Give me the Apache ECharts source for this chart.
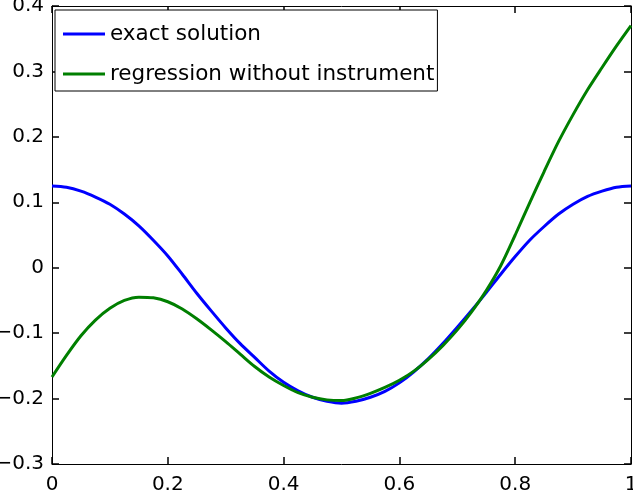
<!DOCTYPE html>
<html>
<head>
<meta charset="utf-8">
<script src="https://cdn.jsdelivr.net/npm/echarts@6/dist/echarts.min.js"></script>
<style>
html,body{margin:0;padding:0;background:#fff;}
#chart{width:633px;height:492px;}
</style>
</head>
<body>
<div id="chart"></div>
<script>
const xs = [0, 0.025, 0.05, 0.075, 0.10, 0.125, 0.15, 0.175, 0.20, 0.225, 0.25, 0.275, 0.30, 0.325, 0.35, 0.375, 0.40, 0.425, 0.45, 0.475,
            0.50, 0.525, 0.55, 0.575, 0.60, 0.625, 0.65, 0.675, 0.70, 0.725, 0.75, 0.775, 0.80, 0.825, 0.85, 0.875, 0.90, 0.925, 0.95, 0.975, 1.00];
const exactSolution = [0.125, 0.123, 0.117, 0.108, 0.097, 0.082, 0.064, 0.042, 0.018, -0.010, -0.039, -0.066, -0.092, -0.116, -0.137, -0.158, -0.175, -0.188, -0.198, -0.204,
                       -0.207, -0.204, -0.198, -0.189, -0.176, -0.159, -0.139, -0.116, -0.091, -0.065, -0.038, -0.010, 0.017, 0.042, 0.063, 0.082, 0.097, 0.109, 0.117, 0.123, 0.125];
const regressionNoInstrument = [-0.167, -0.134, -0.104, -0.080, -0.062, -0.050, -0.045, -0.046, -0.052, -0.063, -0.078, -0.095, -0.113, -0.132, -0.151, -0.167, -0.180, -0.191, -0.198, -0.202,
                                -0.203, -0.199, -0.192, -0.183, -0.172, -0.158, -0.140, -0.119, -0.095, -0.067, -0.035, 0.003, 0.050, 0.099, 0.147, 0.193, 0.234, 0.272, 0.306, 0.339, 0.370];
const seriesNames = ['exact solution', 'regression without instrument'];
const xTicks = [0, 0.2, 0.4, 0.6, 0.8, 1];
const yTicks = [-0.3, -0.2, -0.1, 0, 0.1, 0.2, 0.3, 0.4];

const pairs = (ys) => xs.map((x, i) => [x, ys[i]]);
const fmt = (v) => {
  const r = Math.round(v * 10) / 10;
  if (r === 0) return '0';
  if (r === 1) return '1';
  return (r < 0 ? '\u2212' : '') + Math.abs(r).toFixed(1);
};
const font = 'DejaVu Sans';
const colors = ['#0000ff', '#007f00'];
const tick = () => ({show: true, inside: true, length: 7, lineStyle: {color: '#000000', width: 1.5}});
const line = () => ({show: true, onZero: false, lineStyle: {color: '#000000', width: 1}});

const chart = echarts.init(document.getElementById('chart'), null, {renderer: 'canvas'});
chart.setOption({
  backgroundColor: '#ffffff',
  animation: false,
  grid: {left: 52, right: 2, top: 6, bottom: 28, containLabel: false, outerBoundsMode: 'none'},
  legend: {
    orient: 'vertical',
    left: 55, top: 10,
    padding: [13, 3, 6, 8],
    itemWidth: 42, itemHeight: 3, itemGap: 18,
    borderColor: '#000', borderWidth: 1, backgroundColor: '#fff',
    textStyle: {fontFamily: font, fontSize: 21.5, color: '#000'},
    data: seriesNames.map((n, i) => ({name: n, icon: 'rect', itemStyle: {color: colors[i]}}))
  },
  xAxis: [{
    type: 'value', position: 'bottom', min: xTicks[0], max: xTicks[xTicks.length - 1], interval: 0.2,
    axisLine: line(), axisTick: tick(),
    splitLine: {show: false},
    axisLabel: {fontFamily: font, fontSize: 20, color: '#000', margin: 11, formatter: fmt}
  }, {
    type: 'value', position: 'top', min: xTicks[0], max: xTicks[xTicks.length - 1], interval: 0.2,
    axisLine: line(), axisTick: tick(),
    splitLine: {show: false},
    axisLabel: {show: false}
  }],
  yAxis: [{
    type: 'value', position: 'left', min: yTicks[0], max: yTicks[yTicks.length - 1], interval: 0.1,
    axisLine: line(), axisTick: tick(),
    splitLine: {show: false},
    axisLabel: {fontFamily: font, fontSize: 20, color: '#000', margin: 8, padding: [5, 0, 0, 0], formatter: fmt}
  }, {
    type: 'value', position: 'right', min: yTicks[0], max: yTicks[yTicks.length - 1], interval: 0.1,
    axisLine: line(), axisTick: tick(),
    splitLine: {show: false},
    axisLabel: {show: false}
  }],
  series: [{
    name: seriesNames[0], type: 'line', xAxisIndex: 0, yAxisIndex: 0,
    data: pairs(exactSolution), smooth: 0.3, symbol: 'none',
    lineStyle: {color: colors[0], width: 3}, itemStyle: {color: colors[0]}
  }, {
    name: seriesNames[1], type: 'line', xAxisIndex: 0, yAxisIndex: 0,
    data: pairs(regressionNoInstrument), smooth: 0.3, symbol: 'none',
    lineStyle: {color: colors[1], width: 3}, itemStyle: {color: colors[1]}
  }, {
    type: 'line', xAxisIndex: 1, yAxisIndex: 1, data: [], silent: true
  }]
});
</script>
</body>
</html>
